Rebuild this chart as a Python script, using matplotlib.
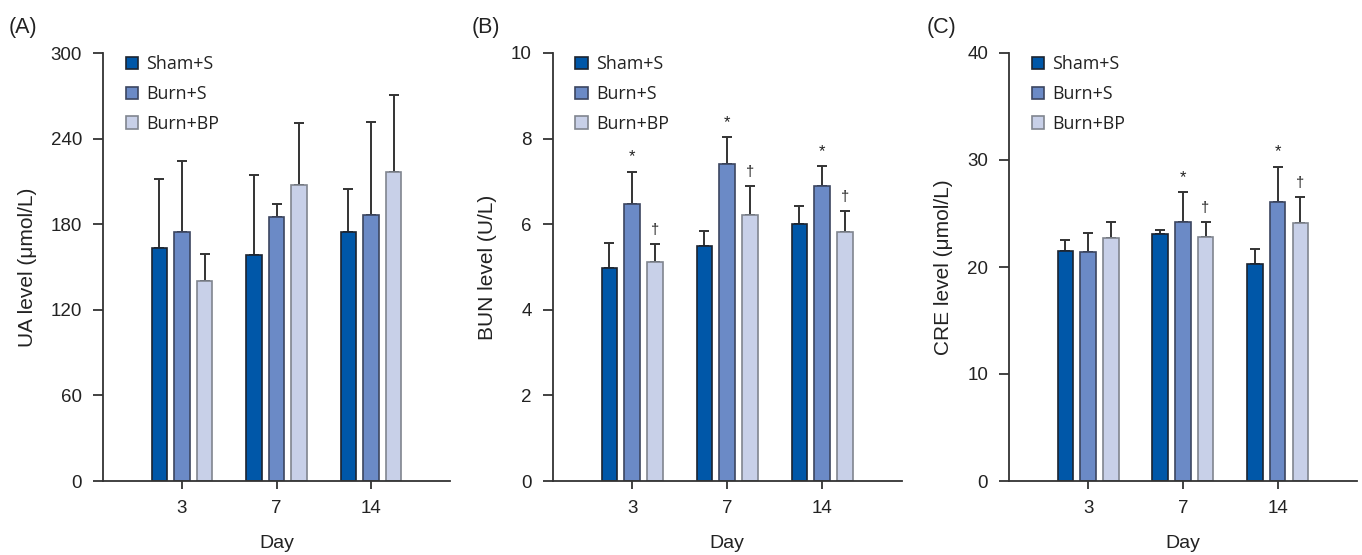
import matplotlib.pyplot as plt
import numpy as np

plt.rcParams['font.family'] = ['Liberation Sans', 'DejaVu Sans']

days = ['3', '7', '14']
groups = ['Sham+S', 'Burn+S', 'Burn+BP']
colors = ['#0057a8', '#6b8ac6', '#c8d0e8']
edges = ['#1c2430', '#3c4660', '#80858f']

## UA ##
ua_mean = [[163.3, 158.6, 174.7],
           [174.7, 185.2, 186.4],
           [140.0, 207.8, 216.5]]
ua_top = [[211.8, 214.5, 205.0],
          [224.0, 194.4, 251.8],
          [158.8, 250.8, 270.4]]
ua_marks = [['', '', ''], ['', '', ''], ['', '', '']]

## BUN ##
bun_mean = [[4.98, 5.49, 6.00],
            [6.48, 7.41, 6.90],
            [5.12, 6.22, 5.81]]
bun_top = [[5.56, 5.85, 6.42],
           [7.23, 8.03, 7.35],
           [5.54, 6.90, 6.30]]
bun_marks = [['', '', ''], ['*', '*', '*'], ['\u2020', '\u2020', '\u2020']]

## CRE ##
cre_mean = [[21.52, 23.04, 20.30],
            [21.36, 24.20, 26.05],
            [22.68, 22.84, 24.07]]
cre_top = [[22.48, 23.44, 21.65],
           [23.14, 27.04, 29.39],
           [24.20, 24.20, 26.58]]
cre_marks = [['', '', ''], ['', '*', '*'], ['', '\u2020', '\u2020']]

panels = [
    ('(A)', 'UA level (\u03bcmol/L)', ua_mean, ua_top, ua_marks, 300, [0, 60, 120, 180, 240, 300]),
    ('(B)', 'BUN level (U/L)', bun_mean, bun_top, bun_marks, 10, [0, 2, 4, 6, 8, 10]),
    ('(C)', 'CRE level (\u03bcmol/L)', cre_mean, cre_top, cre_marks, 40, [0, 10, 20, 30, 40]),
]
lefts = [103, 552.7, 1009]
widths = [347, 349, 347.7]
tag_x = [9, 472, 927]

fig = plt.figure(figsize=(13.62, 5.55), dpi=100)
x = np.arange(1, len(days) + 1)
bw = 0.164
off = 0.24

for k, (tag, ylab, mean, top, marks, ymax, yt) in enumerate(panels):
    ax = fig.add_axes([lefts[k] / 1362, 74 / 555, widths[k] / 1362, 428 / 555])
    for i in range(3):
        xs = x + (i - 1) * off
        m = np.array(mean[i])
        err = np.array(top[i]) - m
        ax.bar(xs, m, bw, color=colors[i], edgecolor=edges[i], linewidth=1.2,
               label=groups[i], zorder=2)
        ax.errorbar(xs, m, yerr=[np.zeros(3), err], fmt='none', ecolor='#333333',
                    elinewidth=1.4, capsize=3.5, capthick=1.4, zorder=1)
        for j in range(3):
            if marks[i][j]:
                fs = 12 if marks[i][j] == '*' else 10.5
                ax.annotate(marks[i][j], (xs[j], top[i][j]), xytext=(0, 5),
                            textcoords='offset points', ha='center', va='bottom',
                            fontsize=fs, color='#222222')
    ax.set_xlim(0.164, 3.836)
    ax.set_ylim(0, ymax)
    ax.set_yticks(yt)
    ax.set_xticks(x)
    ax.set_xticklabels(days)
    ax.spines['top'].set_visible(False)
    ax.spines['right'].set_visible(False)
    for s in ['left', 'bottom']:
        ax.spines[s].set_color('#333333')
        ax.spines[s].set_linewidth(1.3)
    ax.tick_params(axis='y', length=7, width=1.3, color='#333333', labelsize=13.5,
                   labelcolor='#222222', pad=8)
    ax.tick_params(axis='x', length=6, width=1.3, color='#333333', labelsize=13.5,
                   labelcolor='#222222', pad=8)
    ax.set_ylabel(ylab, fontsize=15, color='#222222', labelpad=10)
    ax.set_xlabel('Day', fontsize=14, color='#222222', labelpad=13)
    leg = ax.legend(loc='upper left', bbox_to_anchor=(0.019, 1.032), frameon=False,
                    handlelength=0.7, handleheight=0.7, handletextpad=0.45,
                    labelspacing=0.66, prop={'family': 'Open Sans', 'size': 12.8})
    for t in leg.get_texts():
        t.set_color('#222222')
    fig.text(tag_x[k] / 1362, 1 - 27 / 555, tag, fontsize=15.5, color='#222222',
             va='center', ha='left')

fig.savefig('out.png', dpi=100)
